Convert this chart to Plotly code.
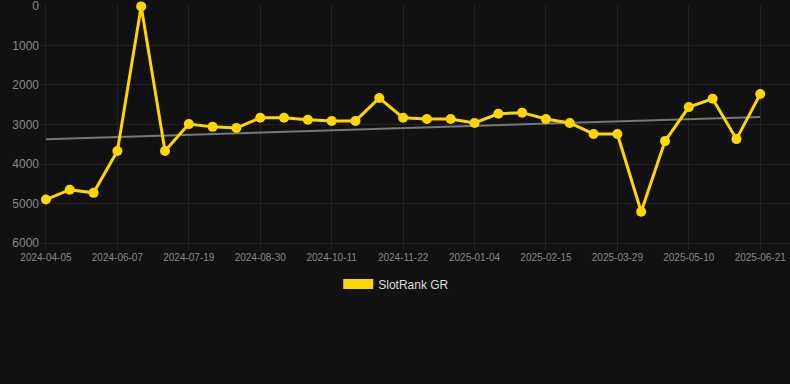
import plotly.graph_objects as go
import numpy as np

dates = ["2024-04-05", "2024-04-26", "2024-05-17", "2024-06-07", "2024-06-21", "2024-07-05",
         "2024-07-19", "2024-08-02", "2024-08-16", "2024-08-30", "2024-09-13", "2024-09-27",
         "2024-10-11", "2024-10-25", "2024-11-08", "2024-11-22", "2024-12-06", "2024-12-20",
         "2025-01-04", "2025-01-18", "2025-02-01", "2025-02-15", "2025-03-01", "2025-03-15",
         "2025-03-29", "2025-04-12", "2025-04-26", "2025-05-10", "2025-05-24", "2025-06-07",
         "2025-06-21"]
ranks = [4900, 4650, 4730, 3670, 10, 3670,
         2990, 3060, 3090, 2830, 2830, 2880,
         2910, 2910, 2330, 2830, 2860, 2860,
         2960, 2730, 2700, 2860, 2960, 3240,
         3240, 5210, 3420, 2560, 2350, 3370,
         2230]
tick_labels = dates[::3]

idx = np.arange(len(ranks))
slope, intercept = np.polyfit(idx, ranks, 1)
trend = [intercept, intercept + slope * idx[-1]]

fig = go.Figure()
fig.add_trace(go.Scatter(x=[dates[0], dates[-1]], y=trend, mode="lines",
                         line=dict(color="#777777", width=2), showlegend=False,
                         hoverinfo="skip"))
fig.add_trace(go.Scatter(x=dates, y=ranks, mode="lines+markers", name="SlotRank GR",
                         line=dict(color="#FFD700", width=3),
                         marker=dict(color="#FFD700", size=10),
                         showlegend=False, cliponaxis=False))
fig.add_trace(go.Scatter(x=[None], y=[None], mode="lines", name="SlotRank GR",
                         line=dict(color="#FFD700", width=12), showlegend=True))

fig.update_layout(
    width=790, height=384,
    paper_bgcolor="#111111", plot_bgcolor="#111111",
    margin=dict(l=40, r=0, t=5, b=134),
    font=dict(family="Liberation Sans, Arial, sans-serif", color="#888888", size=11),
    xaxis=dict(type="category", categoryorder="array", categoryarray=dates,
               range=[-0.25, 31.25], tickmode="array", tickvals=tick_labels,
               ticktext=tick_labels, tickfont=dict(size=10, color="#888888"),
               showgrid=True, gridcolor="#222222", zeroline=False, showline=False,
               ticks="", ticklen=0, ticklabeloverflow="allow"),
    yaxis=dict(range=[6177, -25], tickvals=[0, 1000, 2000, 3000, 4000, 5000, 6000],
               tickfont=dict(size=12, color="#888888"), showgrid=True,
               gridcolor="#222222", zeroline=False, showline=False,
               ticklabeloverflow="allow"),
    legend=dict(orientation="h", x=0.475, xanchor="center", y=-0.08, yanchor="top",
                font=dict(color="#dddddd", size=12), bgcolor="rgba(0,0,0,0)"),
    showlegend=True,
)

fig.write_html("out.html", config={"displayModeBar": False},
               post_script="document.body.style.margin='0';document.body.style.overflow='hidden';document.body.style.background='#111111';")
